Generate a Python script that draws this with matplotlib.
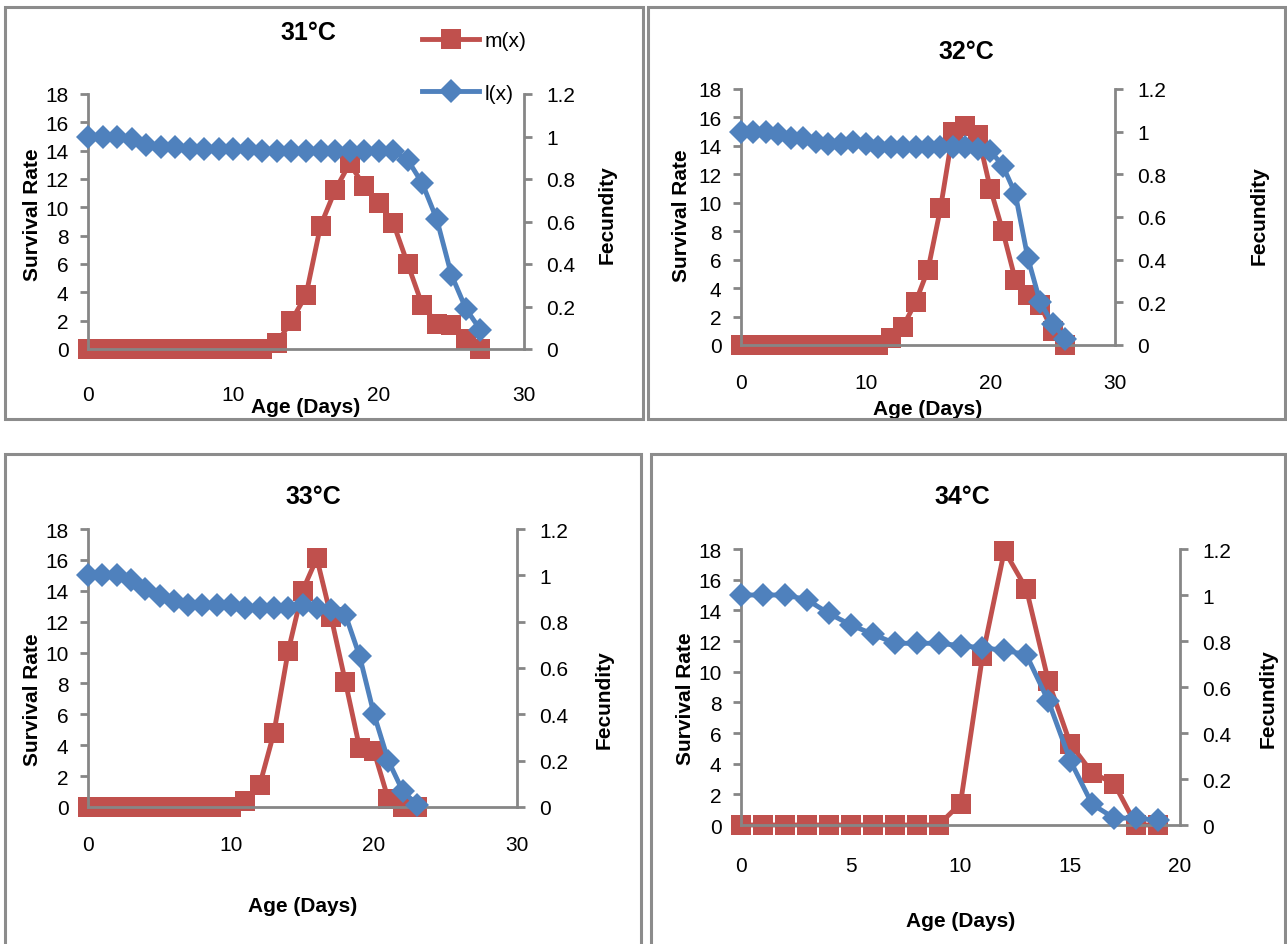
import matplotlib
matplotlib.use('Agg')
import matplotlib.pyplot as plt
from matplotlib.patches import Rectangle

plt.rcParams['font.family'] = ['Liberation Sans', 'DejaVu Sans']

# --- data ---
# m(x) is drawn against the left axis, l(x) against the right axis
days_31 = list(range(28))
mx_31 = [0] * 13 + [0.4, 2.0, 3.8, 8.7, 11.2, 13.1, 11.5, 10.3, 8.9, 6.0,
                    3.1, 1.8, 1.7, 0.7, 0]
lx_31 = [1.0, 1.0, 1.0, 0.99, 0.96, 0.95, 0.95, 0.94, 0.94, 0.94, 0.94, 0.94,
         0.93, 0.93, 0.93, 0.93, 0.93, 0.93, 0.93, 0.93, 0.93, 0.93, 0.89,
         0.78, 0.61, 0.35, 0.19, 0.09]

days_32 = list(range(27))
mx_32 = [0] * 12 + [0.5, 1.3, 3.0, 5.3, 9.6, 15.0, 15.4, 14.8, 11.0, 8.0,
                    4.6, 3.5, 2.8, 1.0, 0]
lx_32 = [1.0, 1.0, 1.0, 0.99, 0.97, 0.97, 0.95, 0.94, 0.94, 0.95, 0.94, 0.93,
         0.93, 0.93, 0.93, 0.93, 0.93, 0.93, 0.93, 0.92, 0.91, 0.84, 0.71,
         0.41, 0.20, 0.10, 0.03]

days_33 = list(range(24))
mx_33 = [0] * 11 + [0.4, 1.4, 4.8, 10.1, 14.0, 16.1, 12.3, 8.1, 3.8, 3.6,
                    0.5, 0, 0]
lx_33 = [1.0, 1.0, 1.0, 0.98, 0.94, 0.91, 0.89, 0.87, 0.87, 0.87, 0.87, 0.86,
         0.86, 0.86, 0.86, 0.87, 0.86, 0.85, 0.83, 0.65, 0.40, 0.20, 0.07,
         0.01]

days_34 = list(range(20))
mx_34 = [0] * 10 + [1.4, 11.0, 17.9, 15.4, 9.4, 5.3, 3.4, 2.7, 0, 0]
lx_34 = [1.0, 1.0, 1.0, 0.98, 0.92, 0.87, 0.83, 0.79, 0.79, 0.79, 0.78, 0.77,
         0.76, 0.74, 0.54, 0.28, 0.09, 0.03, 0.03, 0.02]

RED = '#C0504D'
BLUE = '#4F81BD'
GREY = '#868686'
FS = 15

W, H = 1287, 945


def px_rect(x0, y0, x1, y1):
    # pixel box (top-left origin) -> figure fraction [l, b, w, h]
    return [x0 / W, 1 - y1 / H, (x1 - x0) / W, (y1 - y0) / H]


def plot_panel(fig, box, title, title_xy, days, mx, lx, xmax, xstep,
               xpad, xlab_y, ylab_x, ylab_y, flab_x):
    ax = fig.add_axes(px_rect(*box))
    ax2 = ax.twinx()

    ax.plot(days, mx, color=RED, lw=3.5, marker='s', ms=15, mew=0,
            clip_on=False, label='m(x)')
    ax2.plot(days, lx, color=BLUE, lw=3.5, marker='D', ms=12, mew=0,
             clip_on=False, label='l(x)')

    ax.set_xlim(0, xmax)
    ax.set_xticks(range(0, xmax + 1, xstep))
    ax.set_ylim(0, 18)
    ax.set_yticks(range(0, 19, 2))
    ax2.set_ylim(0, 1.2)
    ax2.set_yticks([0, 0.2, 0.4, 0.6, 0.8, 1.0, 1.2])
    ax2.set_yticklabels(['0', '0.2', '0.4', '0.6', '0.8', '1', '1.2'])

    for a in (ax, ax2):
        for s in a.spines.values():
            s.set_visible(False)
            s.set_color(GREY)
            s.set_linewidth(2)
    ax.spines['left'].set_visible(True)
    ax.spines['bottom'].set_visible(True)
    ax2.spines['right'].set_visible(True)

    ax.tick_params(axis='y', direction='out', length=6, width=2,
                   color=GREY, labelsize=FS, pad=8)
    ax2.tick_params(axis='y', direction='out', length=6, width=2,
                    color=GREY, labelsize=FS, pad=10)
    ax.tick_params(axis='x', length=0, labelsize=FS, pad=xpad)

    ax.set_xlabel('Age (Days)', fontsize=FS, fontweight='bold')
    ax.xaxis.set_label_coords(0.5, xlab_y)
    ax.set_ylabel('Survival Rate', fontsize=FS, fontweight='bold')
    ax.yaxis.set_label_coords(ylab_x, ylab_y)
    ax2.set_ylabel('Fecundity', fontsize=FS, fontweight='bold')
    ax2.yaxis.set_label_coords(flab_x, ylab_y)

    fig.text(title_xy[0] / W, 1 - title_xy[1] / H, title, fontsize=18,
             fontweight='bold', ha='center', va='center')
    return ax, ax2


fig = plt.figure(figsize=(W / 100, H / 100), dpi=100)

# grey frames round each chart
for x0, y0, x1, y1 in [(5, 8, 643, 420), (648, 8, 1285, 420),
                       (5, 455, 641, 960), (651, 455, 1285, 960)]:
    fig.add_artist(Rectangle((x0 / W, 1 - y1 / H), (x1 - x0) / W,
                             (y1 - y0) / H, transform=fig.transFigure,
                             fill=False, ec='#8C8C8C', lw=2.2))

ax, ax2 = plot_panel(fig, (88, 95, 524, 350), '31°C', (308, 33),
                     days_31, mx_31, lx_31, 30, 10, 26,
                     -0.19, -0.105, 0.53, 1.17)
plot_panel(fig, (741, 90, 1115, 346), '32°C', (966, 52),
           days_32, mx_32, lx_32, 30, 10, 20, -0.21, -0.133, 0.51, 1.36)
plot_panel(fig, (88, 530, 517, 808), '33°C', (313, 497),
           days_33, mx_33, lx_33, 30, 10, 20, -0.32, -0.108, 0.39, 1.18)
plot_panel(fig, (741, 550, 1180, 826), '34°C', (962, 497),
           days_34, mx_34, lx_34, 20, 5, 22, -0.31, -0.105, 0.46, 1.18)

# legend only on the first chart
h1, l1 = ax.get_legend_handles_labels()
h2, l2 = ax2.get_legend_handles_labels()
fig.legend(h1 + h2, l1 + l2, loc='upper left',
           bbox_to_anchor=(412 / W, 1 - 22 / H), frameon=False,
           fontsize=FS, handlelength=2.7, labelspacing=1.6,
           borderpad=0, handletextpad=0.3)

fig.savefig('out.png', dpi=100)
